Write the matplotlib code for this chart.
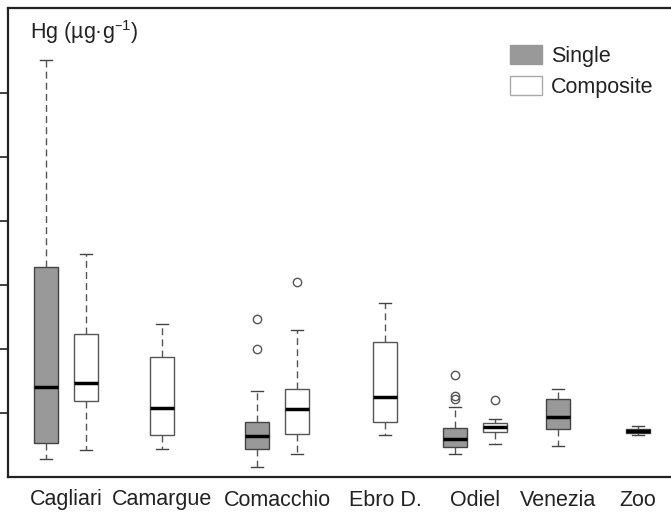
import matplotlib
matplotlib.use("Agg")
from matplotlib import pyplot as plt
from matplotlib.patches import Patch

plt.rcParams['font.family'] = ['Liberation Sans', 'DejaVu Sans']

sites = ['Cagliari', 'Camargue', 'Comacchio', 'Ebro D.', 'Odiel', 'Venezia', 'Zoo']

# box statistics (None = no box for that group)
single_whislo = [0.28, None, 0.16, None, 0.36, 0.48, 0.66]
single_q1 = [0.53, None, 0.44, None, 0.47, 0.75, 0.69]
single_med = [1.41, None, 0.64, None, 0.59, 0.94, 0.72]
single_q3 = [3.28, None, 0.86, None, 0.77, 1.22, 0.75]
single_whishi = [6.52, None, 1.34, None, 1.09, 1.375, 0.80]
single_fliers = [[], [], [2.47, 2.0], [], [1.59, 1.27, 1.22], [], []]

comp_whislo = [0.42, 0.44, 0.36, 0.66, 0.52, None, None]
comp_q1 = [1.19, 0.66, 0.67, 0.86, 0.70, None, None]
comp_med = [1.47, 1.08, 1.06, 1.25, 0.78, None, None]
comp_q3 = [2.23, 1.875, 1.375, 2.11, 0.84, None, None]
comp_whishi = [3.48, 2.39, 2.30, 2.72, 0.91, None, None]
comp_fliers = [[], [], [3.05], [], [1.20], [], []]

y_ticks = [1, 2, 3, 4, 5, 6]

# layout (axis units), not data
group_x = [1.45, 3.85, 6.73, 9.43, 11.68, 13.75, 15.75]
half_gap = 0.5


def make_stats(lo, q1, med, q3, hi, fl):
    out = []
    for i in range(len(sites)):
        if med[i] is None:
            out.append(None)
        else:
            out.append(dict(whislo=lo[i], q1=q1[i], med=med[i], q3=q3[i],
                            whishi=hi[i], fliers=fl[i]))
    return out


single = make_stats(single_whislo, single_q1, single_med, single_q3, single_whishi, single_fliers)
comp = make_stats(comp_whislo, comp_q1, comp_med, comp_q3, comp_whishi, comp_fliers)

fig = plt.figure(figsize=(6.71, 5.18), dpi=100)
ax = fig.add_axes([8 / 671, 41 / 518, 663 / 671, 469 / 518])


def draw(stats, positions, face, edge):
    ax.bxp(stats, positions=positions, widths=0.6, patch_artist=True,
           boxprops=dict(facecolor=face, edgecolor=edge, linewidth=1.0),
           medianprops=dict(color='black', linewidth=2.5, solid_capstyle='butt'),
           whiskerprops=dict(color='#555555', linewidth=1.0, linestyle=(0, (5, 3))),
           capprops=dict(color='#444444', linewidth=1.0),
           flierprops=dict(marker='o', markersize=6, markerfacecolor='none',
                           markeredgecolor='#555555', markeredgewidth=1.0),
           capwidths=0.3, manage_ticks=False)


s_stats, s_pos, c_stats, c_pos = [], [], [], []
for i in range(len(sites)):
    both = single[i] is not None and comp[i] is not None
    if single[i] is not None:
        s_stats.append(single[i])
        s_pos.append(group_x[i] - half_gap if both else group_x[i])
    if comp[i] is not None:
        c_stats.append(comp[i])
        c_pos.append(group_x[i] + half_gap if both else group_x[i])

draw(s_stats, s_pos, '#999999', '#444444')
draw(c_stats, c_pos, 'white', '#555555')

ax.set_xlim(0, 663 / 40)
ax.set_ylim(0, 469 / 64)
ax.set_yticks(y_ticks)
ax.set_yticklabels([])
ax.tick_params(axis='y', direction='out', length=5.8, width=1.2, color='#222222')
ax.set_xticks(group_x)
ax.set_xticklabels(sites, fontsize=15.5, color='#222222')
ax.tick_params(axis='x', length=0, pad=9)

for side in ['left', 'top', 'bottom']:
    ax.spines[side].set_linewidth(1.6)
    ax.spines[side].set_color('#222222')
ax.spines['right'].set_visible(False)

ax.text(0.033, 0.933, r'Hg (µg·g$^{\mathregular{–1}}$)', transform=ax.transAxes,
        fontsize=15.5, color='#222222', va='baseline', ha='left')

handles = [Patch(facecolor='#999999', edgecolor='#999999', label='Single'),
           Patch(facecolor='white', edgecolor='#aaaaaa', label='Composite')]
leg = ax.legend(handles=handles, loc='upper left', bbox_to_anchor=(495 / 671, 1 - 30 / 518),
                bbox_transform=fig.transFigure, frameon=False, fontsize=15.5,
                handlelength=1.5, handleheight=0.95, handletextpad=0.4,
                labelspacing=0.45, borderpad=0.2)
for t in leg.get_texts():
    t.set_color('#222222')

fig.savefig('out.png', dpi=100)
